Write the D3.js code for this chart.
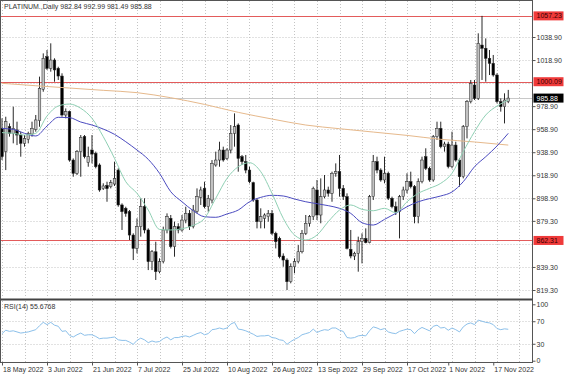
<!DOCTYPE html>
<html>
<head>
<meta charset="utf-8">
<script src="https://cdn.jsdelivr.net/npm/d3@7"></script>
<style>
  body { margin: 0; background: #fff; }
  svg { display: block; font-family: "Liberation Sans", Arial, sans-serif; font-size: 7px; }
</style>
</head>
<body>
<svg id="chart" width="564" height="376"></svg>
<script>
// PLATINUM daily candles, first bar 18 May 2022
const firstDay = "2022-05-18";
const opens = [959.6,939.4,961.0,955.3,958.2,953.8,946.6,950.1,954.7,958.7,966.3,993.5,1021.8,1011.7,1018.9,1011.7,1005.0,971.2,974.1,932.1,
  920.6,939.4,952.4,930.0,940.8,937.9,927.8,907.3,910.1,909.0,911.3,923.4,893.1,890.2,887.3,867.0,855.4,874.3,891.6,871.4,
  843.9,852.5,835.2,843.9,871.4,881.5,856.9,874.3,871.4,880.0,885.8,874.3,887.3,899.7,907.5,891.6,897.4,927.8,932.1,940.8,
  933.5,940.8,955.3,962.5,935.0,930.7,923.4,912.4,897.4,878.6,881.5,882.9,885.8,868.5,864.1,848.8,845.3,826.5,839.5,843.9,
  852.5,868.5,877.2,882.9,906.1,884.4,900.3,906.1,903.2,920.6,922.0,907.5,900.3,854.6,848.8,851.1,861.2,864.1,860.4,900.3,
  930.7,923.4,914.8,920.6,898.9,891.6,887.3,900.3,906.1,913.3,909.0,882.9,913.3,935.0,924.9,914.8,952.4,959.6,943.7,946.0,
  926.3,945.1,932.1,917.6,961.0,982.8,997.2,985.6,1031.9,1029.1,1020.4,1016.0,1005.9,982.8,978.4,982.84];
const highs = [968.3,969.7,963.9,978.4,965.4,956.7,953.8,956.7,965.4,971.2,1004.5,1024.7,1027.6,1033.4,1020.4,1013.1,1007.4,976.9,975.0,933.5,
  940.8,953.8,953.8,943.7,953.8,939.4,929.2,911.9,913.3,914.8,930.7,924.9,894.5,891.6,888.7,868.5,881.5,898.9,898.9,872.8,
  854.0,861.2,846.8,874.3,885.8,884.4,878.6,877.2,884.4,891.6,888.7,893.1,907.5,909.0,913.3,901.8,932.1,939.4,948.0,943.7,
  942.3,962.5,972.6,963.9,936.5,936.5,926.3,913.3,898.9,890.2,885.8,888.7,888.7,869.9,865.6,851.1,846.8,842.4,846.8,858.3,
  871.4,884.4,884.4,909.0,914.8,916.2,919.1,909.0,922.0,929.2,936.5,910.4,903.2,871.4,852.5,865.6,868.5,872.8,901.8,936.5,
  935.0,924.9,935.0,922.0,900.3,896.0,901.8,909.0,920.6,922.0,910.4,916.2,935.0,942.3,926.3,953.8,965.4,965.4,948.0,948.0,
  956.7,948.0,933.5,962.5,984.2,1001.6,1001.6,1042.1,1057.23,1037.7,1027.6,1023.3,1007.4,985.6,990.0,992.99];
const lows = [932.1,923.4,952.4,946.6,945.1,935.0,943.7,946.6,952.4,956.7,961.0,991.4,1010.3,1008.8,1000.1,1001.6,969.7,968.3,930.7,917.6,
  919.1,917.6,933.5,926.3,929.2,924.9,904.6,906.1,895.9,907.5,909.6,891.6,871.4,882.9,862.7,845.3,851.1,865.6,868.5,836.6,
  836.6,828.0,833.8,842.4,868.5,855.4,848.2,868.5,869.9,877.2,871.4,872.8,885.8,893.1,890.2,887.3,894.5,926.3,926.3,930.7,
  932.1,937.9,943.7,922.0,927.8,920.6,911.9,895.9,872.8,872.8,872.8,878.6,867.0,855.4,846.8,839.5,819.3,825.1,833.8,842.4,
  851.1,867.0,874.3,880.0,880.0,877.2,898.9,900.3,895.9,917.6,900.3,897.4,854.5,846.8,845.3,835.2,842.4,859.8,859.8,897.4,
  920.6,913.3,911.9,897.4,890.2,884.4,864.1,897.4,903.2,907.5,877.2,877.2,911.9,923.4,913.3,913.3,949.5,942.3,939.4,924.9,
  924.9,930.7,909.0,916.2,950.9,981.3,984.2,984.2,1001.6,1000.1,1005.9,1004.5,981.3,974.1,963.9,981.49];
const closes = [935.0,965.4,955.3,959.6,953.8,946.6,950.9,955.3,959.6,966.9,994.3,1020.4,1011.7,1018.9,1010.3,1005.0,971.2,974.1,932.1,920.6,
  939.4,951.8,935.0,935.0,937.3,926.3,906.1,909.6,907.3,912.4,916.2,893.1,887.3,885.8,867.0,855.4,874.3,891.6,871.4,843.9,
  852.5,835.2,843.9,871.4,882.9,856.9,874.3,871.4,880.0,885.8,874.3,888.7,900.3,906.1,891.6,898.9,929.2,932.1,940.8,932.1,
  940.8,955.3,961.0,933.5,930.7,923.4,913.3,897.4,878.6,882.9,884.4,885.8,868.5,861.2,848.2,845.3,826.5,839.5,843.9,852.5,
  868.5,877.2,882.9,907.5,884.4,900.3,906.1,903.2,920.6,922.0,907.5,900.3,855.4,848.8,851.1,861.2,864.1,860.4,900.3,930.7,
  923.4,914.8,920.6,898.9,891.6,887.3,900.3,906.1,913.3,909.0,882.9,913.3,932.1,924.9,914.8,952.4,959.6,943.7,946.0,926.3,
  945.1,932.1,917.6,961.0,982.8,998.7,985.6,1033.4,1029.1,1020.4,1016.0,1005.9,982.8,978.4,984.2,985.88];

const maDays = [0,3,6,9,12,15,18,21,24,27,30,33,36,39,42,45,48,51,54,57,60,63,66,69,72,75,78,81,84,87,90,93,96,99,102,105,108,111,114,117,120,123,126,129,132,135];
const fastMA = [955.9,955.3,953.8,955.3,970.3,979.0,980.7,977.0,968.3,952.4,933.6,913.3,903.2,888.7,871.9,871.4,872.5,875.4,881.5,898.9,916.2,926.3,929.8,922.0,
  903.2,881.5,867.0,862.7,867.0,878.6,888.7,893.1,889.3,888.1,890.2,886.4,895.9,903.2,907.5,911.9,920.6,939.4,956.7,971.2,979.0,984.2];
const midMA = [959.6,958.7,955.3,953.0,961.6,969.2,968.9,965.1,962.5,959.0,954.4,948.0,940.8,932.7,920.6,904.6,895.9,888.1,882.9,882.4,885.3,888.7,895.9,899.7,
  901.5,900.9,898.3,895.9,894.2,892.5,890.2,885.8,877.7,875.7,880.6,885.8,891.6,895.9,898.6,900.9,904.4,913.3,926.3,935.0,944.3,955.3];
const slowDays = [0,9,18,27,36,45,54,63,72,81,90,99,108,117,126,135];
const slowMA = [998.7,996.6,994.6,992.6,990.6,986.2,980.4,973.5,967.7,962.5,959.3,956.4,953.5,950.1,947.8,945.1];

// RSI(14), one value per bar
const rsi = [48,54,52,53,51,49,50,51,53,55,62,68,64,68,63,61,52,53,45,42,
  46,49,45,46,46,43,39,40,40,41,42,37,36,36,33,29,36,40,37,32,
  35,33,34,39,42,37,41,41,43,44,42,45,48,50,46,48,55,56,58,56,
  58,65,68,56,55,53,50,47,43,44,44,45,41,40,37,36,29,34,38,41,
  46,48,50,56,50,53,55,54,58,58,54,52,41,40,41,44,45,44,53,60,
  58,55,57,51,49,48,52,54,56,55,48,55,59,56,53,61,63,58,59,54,
  58,55,51,60,65,67,64,72,70,68,67,64,57,55,56.5,55.68];

const levels = [1057.23, 1000.09, 862.31];
const lastPrice = 985.88;
// 998.90 and 859.30 sit under the line boxes: grid only
const priceTicks = [1038.90, 1018.90, 978.90, 958.90, 938.90, 918.90, 898.90, 879.30, 839.30, 819.30];
const hiddenTicks = [998.90, 859.30];
const rsiTicks = [100, 70, 30, 0];
const rsiLevels = [70, 30];
const dateLabels = ["18 May 2022", "3 Jun 2022", "21 Jun 2022", "7 Jul 2022", "25 Jul 2022", "10 Aug 2022",
  "26 Aug 2022", "13 Sep 2022", "29 Sep 2022", "17 Oct 2022", "1 Nov 2022", "17 Nov 2022"];
const title = "PLATINUM.,Daily 982.84 992.99 981.49 985.88";
const rsiTitle = "RSI(14) 55.6768";

// ---- layout ----
const frame = { left: 0.5, right: 532.5, top: 0.5, mainBottom: 299, rsiTop: 301, bottom: 362.5 };
const barStep = 3.75;
const n = opens.length;

function tradingDays(start, count) {
  const out = [];
  let d = new Date(start + "T00:00:00Z");
  while (out.length < count) {
    const wd = d.getUTCDay();
    if (wd !== 0 && wd !== 6) out.push(d);
    d = d3.utcDay.offset(d, 1);
  }
  return out;
}
const dates = tradingDays(firstDay, n);
const parseLabel = d3.utcParse("%d %b %Y");
const labelIdx = dateLabels.map(s => dates.findIndex(d => +d === +parseLabel(s)));

const bars = opens.map((o, i) => ({ i, o, h: highs[i], l: lows[i], c: closes[i] }));

const x = d3.scaleLinear().domain([0, n - 1]).range([2, 2 + barStep * (n - 1)]);
const y = d3.scaleLinear().domain([819.3, 1038.9]).range([290, 37]);
const yRsi = d3.scaleLinear().domain([0, 100]).range([360.7, 304.3]);

const svg = d3.select("#chart");
svg.append("rect").attr("width", 564).attr("height", 376).attr("fill", "#fff");

svg.append("defs").append("clipPath").attr("id", "mainClip")
  .append("rect").attr("x", 1).attr("y", 1).attr("width", 531).attr("height", 297);
svg.select("defs").append("clipPath").attr("id", "rsiClip")
  .append("rect").attr("x", 1).attr("y", 301).attr("width", 531).attr("height", 61);

const main = svg.append("g").attr("clip-path", "url(#mainClip)");
const sub = svg.append("g").attr("clip-path", "url(#rsiClip)");

// grid
const gridX = d3.range(0, n + 6, 6);
const gridColor = "#c4c4c4";
main.selectAll(".hgrid").data(priceTicks.concat(hiddenTicks)).join("line")
  .attr("x1", frame.left).attr("x2", frame.right)
  .attr("y1", d => Math.round(y(d)) + 0.5).attr("y2", d => Math.round(y(d)) + 0.5)
  .attr("stroke", gridColor).attr("stroke-dasharray", "1,2");
main.selectAll(".vgrid").data(gridX).join("line")
  .attr("x1", d => Math.round(x(d)) + 0.5).attr("x2", d => Math.round(x(d)) + 0.5)
  .attr("y1", 1).attr("y2", frame.mainBottom)
  .attr("stroke", gridColor).attr("stroke-dasharray", "1,2");
sub.selectAll(".vgrid").data(gridX).join("line")
  .attr("x1", d => Math.round(x(d)) + 0.5).attr("x2", d => Math.round(x(d)) + 0.5)
  .attr("y1", frame.rsiTop).attr("y2", frame.bottom)
  .attr("stroke", gridColor).attr("stroke-dasharray", "1,2");
sub.selectAll(".rgrid").data(rsiLevels).join("line")
  .attr("x1", frame.left).attr("x2", frame.right)
  .attr("y1", d => Math.round(yRsi(d)) + 0.5).attr("y2", d => Math.round(yRsi(d)) + 0.5)
  .attr("stroke", gridColor).attr("stroke-dasharray", "1,2");

// horizontal levels and the bid line
main.append("line")
  .attr("x1", frame.left).attr("x2", frame.right)
  .attr("y1", Math.round(y(lastPrice)) + 0.5).attr("y2", Math.round(y(lastPrice)) + 0.5)
  .attr("stroke", "#c8c8c8");
main.selectAll(".level").data(levels).join("line")
  .attr("x1", frame.left).attr("x2", frame.right)
  .attr("y1", d => Math.round(y(d)) + 0.5).attr("y2", d => Math.round(y(d)) + 0.5)
  .attr("stroke", "#e35b5b").attr("stroke-width", 1.1);

// candles
const candle = main.selectAll(".candle").data(bars).join("g");
candle.append("line")
  .attr("x1", d => x(d.i)).attr("x2", d => x(d.i))
  .attr("y1", d => y(d.h)).attr("y2", d => y(d.l))
  .attr("stroke", "#111").attr("stroke-width", 0.9);
candle.append("rect")
  .attr("x", d => x(d.i) - 1.3).attr("width", 2.6)
  .attr("y", d => y(Math.max(d.o, d.c)))
  .attr("height", d => Math.max(0.8, Math.abs(y(d.o) - y(d.c))))
  .attr("fill", d => d.c >= d.o ? "#c2c2c2" : "#000")
  .attr("stroke", "#222").attr("stroke-width", 0.5);

// moving averages
const maLine = (days) => d3.line().x((d, k) => x(days[k])).y(d => y(d)).curve(d3.curveMonotoneX);
main.append("path").datum(slowMA).attr("d", maLine(slowDays))
  .attr("fill", "none").attr("stroke", "#e6b98c").attr("stroke-width", 1);
main.append("path").datum(midMA).attr("d", maLine(maDays))
  .attr("fill", "none").attr("stroke", "#4b4bc0").attr("stroke-width", 1);
main.append("path").datum(fastMA).attr("d", maLine(maDays))
  .attr("fill", "none").attr("stroke", "#8fd0b4").attr("stroke-width", 1);

// RSI
sub.append("path").datum(rsi)
  .attr("d", d3.line().x((d, i) => x(i)).y(d => yRsi(d)))
  .attr("fill", "none").attr("stroke", "#8cc0ea").attr("stroke-width", 1);

// frames
svg.append("rect").attr("x", frame.left).attr("y", frame.top)
  .attr("width", frame.right - frame.left).attr("height", frame.bottom - frame.top)
  .attr("fill", "none").attr("stroke", "#555");
svg.append("rect").attr("x", 0.5).attr("y", frame.mainBottom - 0.5).attr("width", 532).attr("height", 2)
  .attr("fill", "#444");

// price axis
const priceAxis = svg.append("g").attr("transform", `translate(${frame.right},0)`)
  .call(d3.axisRight(y).tickValues(priceTicks).tickFormat(d3.format(".2f")).tickSize(3).tickPadding(1));
priceAxis.select(".domain").remove();
priceAxis.selectAll("line").attr("stroke", "#555");
priceAxis.selectAll("text").attr("fill", "#333").style("font-size", "7px");

const rsiAxis = svg.append("g").attr("transform", `translate(${frame.right},0)`)
  .call(d3.axisRight(yRsi).tickValues(rsiTicks).tickFormat(d3.format("d")).tickSize(3).tickPadding(1));
rsiAxis.select(".domain").remove();
rsiAxis.selectAll("line").attr("stroke", "#555");
rsiAxis.selectAll("text").attr("fill", "#333").style("font-size", "7px");

// value boxes on the price axis
const boxes = levels.map(v => ({ v, fill: "#ef3a3a", text: "#3a0000" }))
  .concat([{ v: lastPrice, fill: "#000", text: "#fff" }]);
const box = svg.selectAll(".vbox").data(boxes).join("g")
  .attr("transform", d => `translate(${frame.right + 1},${y(d.v)})`);
box.append("rect").attr("x", 0).attr("y", -4.5).attr("width", 30).attr("height", 9)
  .attr("fill", d => d.fill);
box.append("text").attr("x", 3).attr("dy", "0.35em")
  .attr("fill", d => d.text).style("font-size", "7px")
  .text(d => d3.format(".2f")(d.v));

// time axis
const timeAxis = svg.append("g").attr("transform", `translate(0,${frame.bottom})`)
  .call(d3.axisBottom(x).tickValues(labelIdx).tickFormat((d, k) => dateLabels[k]).tickSize(3).tickPadding(2));
timeAxis.select(".domain").remove();
timeAxis.selectAll("line").attr("stroke", "#555");
timeAxis.selectAll("text").attr("text-anchor", "start").attr("dx", "0.5")
  .attr("fill", "#333").style("font-size", "7px");

// titles
svg.append("text").attr("x", 4).attr("y", 9).attr("fill", "#333").text(title);
svg.append("text").attr("x", 4).attr("y", 309).attr("fill", "#333").text(rsiTitle);
</script>
</body>
</html>
